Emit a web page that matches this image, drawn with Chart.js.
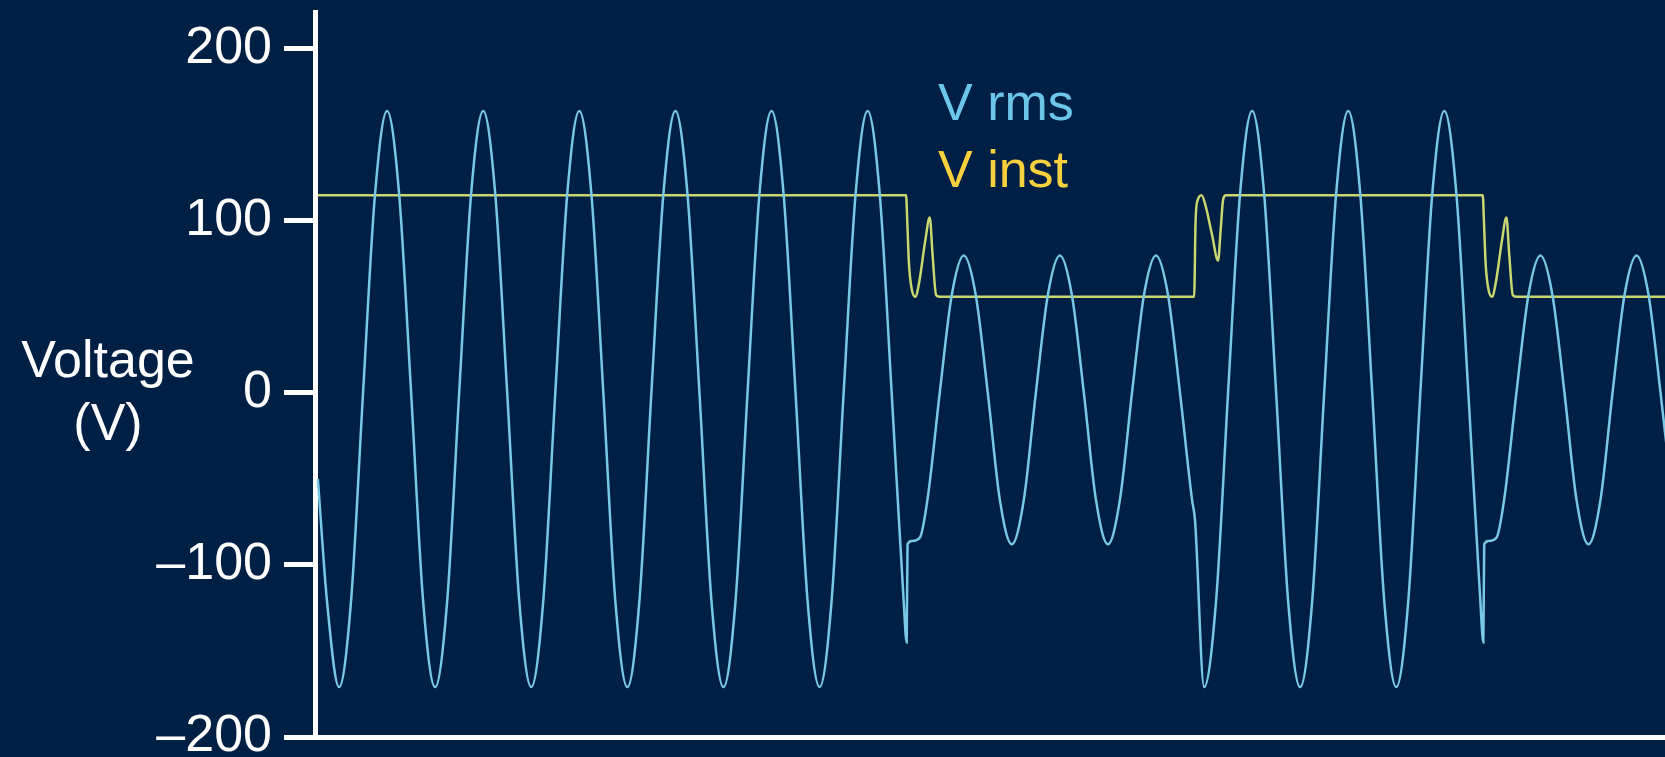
<!DOCTYPE html>
<html lang="en">
<head>
<meta charset="UTF-8">
<title>Voltage sag</title>
<script src="https://cdn.jsdelivr.net/npm/chart.js@4.4.1/dist/chart.umd.min.js"></script>
<style>
    html, body { margin: 0; padding: 0; background: #001f45; overflow: hidden; }
    .chart-box { width: 1665px; height: 757px; }
</style>
</head>
<body>
<div class="chart-box"><canvas id="voltageChart" width="1665" height="757"></canvas></div>
<script>
/* 1. data (time in ms, voltage in V) */
const yTicks = [-200, -100, 0, 100, 200];

// blue waveform
const waveTime = [
    0.5, 2.08, 4.17, 6.25, 8.33, 10.42, 12.50, 14.58, 16.67,
    18.75, 20.83, 22.92, 25.00, 27.08, 29.17, 31.25, 33.33,
    35.42, 37.50, 39.58, 41.67, 43.75, 45.83, 47.92, 50.00,
    52.08, 54.17, 56.25, 58.33, 60.42, 62.50, 64.58, 66.67,
    68.75, 70.83, 72.92, 75.00, 77.08, 79.17, 81.25, 83.33,
    85.42, 87.50, 89.58, 91.67, 93.75, 95.83, 97.92, 100.00,
    102.08, 102.6, 102.75, 103.5, 104.9, 106.25, 108.33,
    110.42, 112.50, 114.58, 116.67, 118.75, 120.83, 122.92, 125.00,
    127.08, 129.17, 131.25, 133.33, 135.42, 137.50, 139.58, 141.67,
    143.75, 145.83, 147.92, 150.00,
    152.08, 152.6, 154.17, 156.25, 158.33,
    160.42, 162.50, 164.58, 166.67, 168.75, 170.83, 172.92, 175.00,
    177.08, 179.17, 181.25, 183.33, 185.42, 187.50, 189.58, 191.67,
    193.75, 195.83, 197.92, 200.00,
    202.08, 202.6, 202.75, 203.5, 204.9, 206.25, 208.33,
    210.42, 212.50, 214.58, 216.67, 218.75, 220.83, 222.92, 225.00,
    227.08, 229.17, 231.25, 233.33, 235.42
];
const waveVolts = [
    -50, -121, -171, -121, 0, 116, 164, 116, 0,
    -121, -171, -121, 0, 116, 164, 116, 0,
    -121, -171, -121, 0, 116, 164, 116, 0,
    -121, -171, -121, 0, 116, 164, 116, 0,
    -121, -171, -121, 0, 116, 164, 116, 0,
    -121, -171, -121, 0, 116, 164, 116, 0,
    -121, -145, -88, -86, -84, -61, 0,
    57, 80, 57, 0, -62, -88, -62, 0,
    57, 80, 57, 0, -62, -88, -62, 0,
    57, 80, 57, 0,
    -62, -74, -171, -121, 0,
    116, 164, 116, 0, -121, -171, -121, 0,
    116, 164, 116, 0, -121, -171, -121, 0,
    116, 164, 116, 0,
    -121, -145, -88, -86, -84, -61, 0,
    57, 80, 57, 0, -62, -88, -62, 0,
    57, 80, 57, 0, -62
];

// yellow-green level trace
const levelTime = [
    0.5, 102.5, 102.7, 103.0, 103.5, 104.1, 104.8, 105.8, 106.6, 107.1, 107.7, 108.3,
    152.45, 152.7, 153.05, 153.75, 154.5, 155.55, 156.6, 157.05, 157.5, 158.0,
    202.5, 202.7, 203.0, 203.5, 204.1, 204.8, 205.8, 206.6, 207.1, 207.7, 208.3,
    236.0
];
const levelVolts = [
    115, 115, 100, 75, 60, 56, 65, 88, 102, 80, 57, 56,
    56, 100, 112, 115, 108, 92, 77, 95, 113, 115,
    115, 100, 75, 60, 56, 65, 88, 102, 80, 57, 56,
    56
];

const legendItems = [
    { text: 'V rms', color: '#6cc6ea' },
    { text: 'V inst', color: '#f7d13d' }
];

const FONT = '"Liberation Sans", Arial, Helvetica, sans-serif';

/* 2. text drawn on the canvas (axis title + legend) */
const textPlugin = {
    id: 'sideText',
    afterDraw(chart) {
        const c = chart.ctx;
        c.save();
        c.font = '52px ' + FONT;
        c.fillStyle = '#ffffff';
        c.textAlign = 'center';
        c.textBaseline = 'alphabetic';
        c.fillText('Voltage', 108, 377);
        c.fillText('(V)', 108, 440);

        c.textAlign = 'left';
        legendItems.forEach(function(item, i) {
            c.fillStyle = item.color;
            c.fillText(item.text, 938, 120 + i * 67);
        });
        c.restore();
    }
};

/* 3. chart */
document.addEventListener('DOMContentLoaded', function() {
    const ctx = document.getElementById('voltageChart');
    if (!ctx) return;

    const wavePoints = waveTime.map((t, i) => ({ x: t, y: waveVolts[i] }));
    const levelPoints = levelTime.map((t, i) => ({ x: t, y: levelVolts[i] }));

    new Chart(ctx, {
        type: 'line',
        data: {
            datasets: [{
                label: 'V rms',
                data: wavePoints,
                borderColor: '#78c8e6',
                borderWidth: 2.5,
                pointRadius: 0,
                cubicInterpolationMode: 'monotone',
                fill: false
            }, {
                label: 'V inst',
                data: levelPoints,
                borderColor: '#c9d86e',
                borderWidth: 2.5,
                pointRadius: 0,
                cubicInterpolationMode: 'monotone',
                fill: false
            }]
        },
        options: {
            responsive: false,
            animation: false,
            layout: { padding: { top: 12, bottom: 20, left: 0, right: 0 } },
            plugins: {
                legend: { display: false },
                tooltip: { enabled: false }
            },
            scales: {
                x: {
                    type: 'linear',
                    min: 0,
                    max: 234.1,
                    grid: { display: false, drawTicks: false },
                    ticks: { display: false },
                    border: { display: true, color: '#ffffff', width: 5 }
                },
                y: {
                    min: -200,
                    max: 221.5,
                    afterBuildTicks: function(scale) {
                        scale.ticks = yTicks.map(v => ({ value: v }));
                    },
                    afterFit: function(scale) {
                        scale.width = 315;
                        scale.paddingTop = 0;
                        scale.paddingBottom = 0;
                    },
                    grid: {
                        drawOnChartArea: false,
                        drawTicks: true,
                        tickLength: 31,
                        tickWidth: 5,
                        tickColor: '#ffffff'
                    },
                    border: { color: '#ffffff', width: 5 },
                    ticks: {
                        color: '#ffffff',
                        padding: 12,
                        font: { family: FONT, size: 52 },
                        callback: v => (v < 0 ? '\u2013' + Math.abs(v) : String(v))
                    }
                }
            }
        },
        plugins: [textPlugin]
    });
});
</script>
</body>
</html>
